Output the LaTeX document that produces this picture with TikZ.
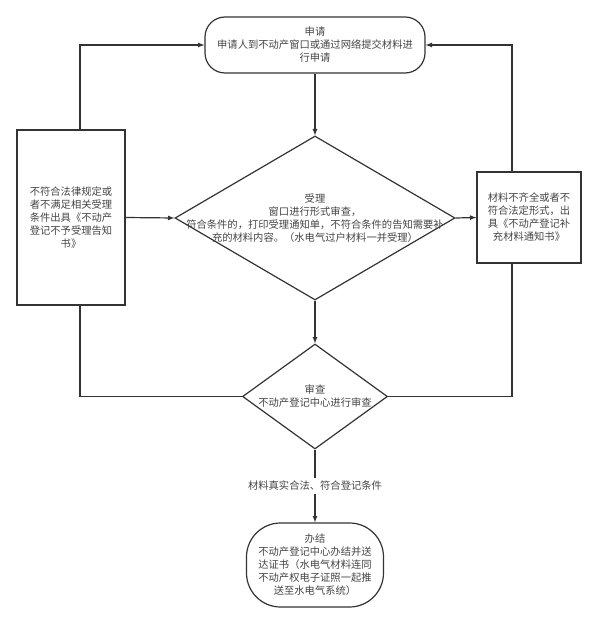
\documentclass[tikz,border=0pt]{standalone}
\usepackage{fontspec}
\setmainfont{Noto Sans CJK SC}
\usetikzlibrary{shapes,arrows}
\usepackage{xcolor}
\definecolor{linea}{HTML}{333333}
\definecolor{texto}{HTML}{444444}
\tikzset{
  paso/.style={draw=linea, line width=1.2pt, rounded corners=20pt, minimum width=220pt, minimum height=56pt, align=center, inner sep=2pt},
  fin/.style={draw=linea, line width=1.2pt, rounded corners=34pt, minimum width=137pt, minimum height=84pt, align=center, inner sep=2pt},
  caja/.style={draw=linea, line width=1.2pt, align=center, inner sep=2pt},
  rombo/.style={draw=linea, line width=1.2pt, diamond, inner sep=0pt},
  flecha/.style={draw=linea, line width=1.2pt},
  every label/.style={align=center, inner sep=0pt}
}
\begin{document}
\begin{tikzpicture}[x=1pt,y=-1pt,>=latex,font=\fontsize{10.3}{13}\selectfont\color{texto}]
            \useasboundingbox (0,0) rectangle (600,620);
            \node[paso] (solicitud) at (315,45) {申请\\申请人到不动产窗口或通过网络提交材料进\\行申请}; % inicio
            \node[rombo, minimum width=280pt, minimum height=164pt, label={center:{受理\\窗口进行形式审查，\\符合条件的，打印受理通知单，不符合条件的告知需要补\\充的材料内容。（水电气过户材料一并受理）}}] (aceptar) at (315,218) {};
            \node[caja, minimum width=108pt, minimum height=175pt] (rechazo) at (71,217.5) {不符合法律规定或\\者不满足相关受理\\条件出具《不动产\\登记不予受理告知\\书》};
            \node[caja, minimum width=104pt, minimum height=91pt] (completar) at (529,217.5) {材料不齐全或者不\\符合法定形式，出\\具《不动产登记补\\充材料通知书》};
            \node[rombo, minimum width=145pt, minimum height=105pt, label={center:{审查\\不动产登记中心进行审查}}] (revision) at (315,396.5) {};
            \node[fin] (final) at (315,565) {办结\\不动产登记中心办结并送\\达证书（水电气材料连同\\不动产权电子证照一起推\\送至水电气系统）};
            \draw[flecha,->] (solicitud) -- (aceptar.north);
            \draw[flecha,->] (aceptar.east) -- (completar.west);
            \draw[flecha,->] (rechazo.east) -- (aceptar.west);
            \draw[flecha,->] (aceptar.south) -- (revision.north);
            \draw[flecha,->] (revision.south) -- node[fill=white, inner sep=3pt] (condicion) {材料真实合法、符合登记条件} (final.north);
            \draw[flecha,->] ([xshift=9pt]rechazo.north) |- (solicitud.west); % vuelta izquierda
            \draw[flecha,->] ([xshift=-17pt]completar.north) |- (solicitud.east); % vuelta derecha
            \draw[flecha] (revision.west) -| ([xshift=9pt]rechazo.south);
            \draw[flecha] (revision.east) -| ([xshift=-17pt]completar.south);
\end{tikzpicture}
\end{document}
